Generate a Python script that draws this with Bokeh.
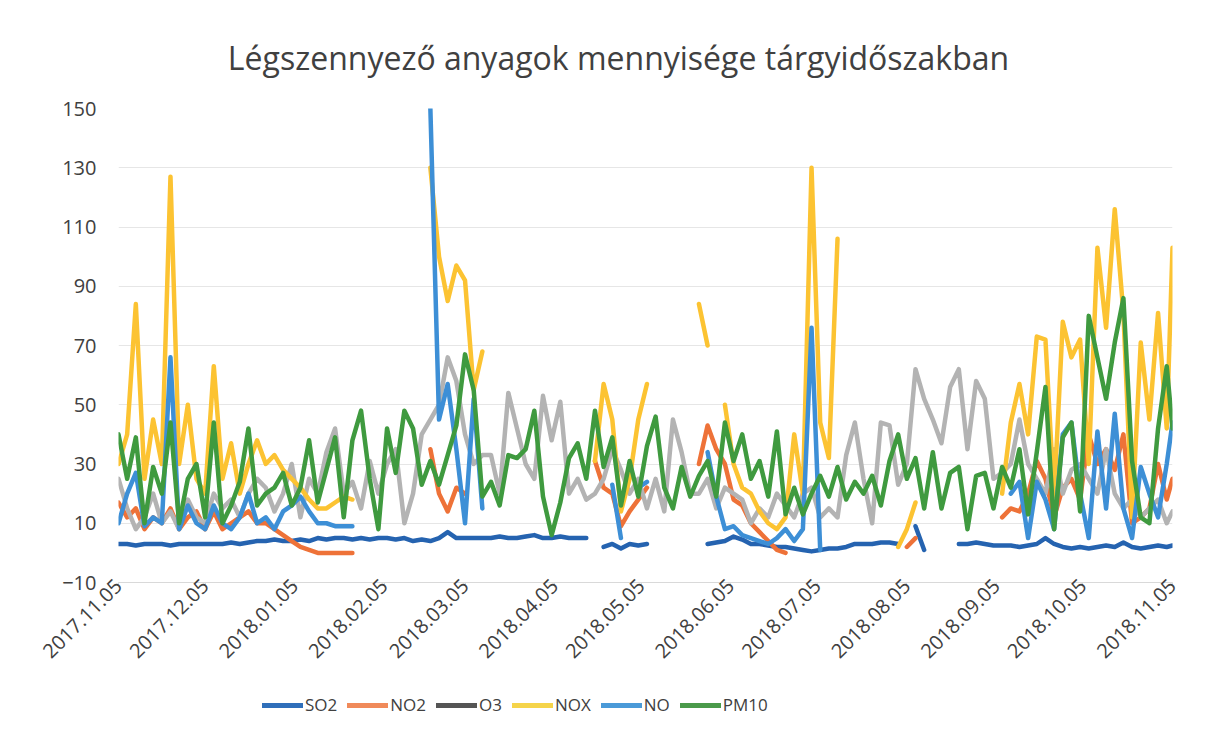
import math
import numpy as np
import pandas as pd
from datetime import datetime
from bokeh.plotting import figure
from bokeh.layouts import column
from bokeh.models import (Range1d, FixedTicker, DatetimeTickFormatter, Label,
                          Legend, LegendItem)
from bokeh.embed import file_html
from bokeh.resources import INLINE

N = np.nan

TITLE = "Légszennyező anyagok mennyisége tárgyidőszakban"
TICK_LABELS = ["2017.11.05", "2017.12.05", "2018.01.05", "2018.02.05", "2018.03.05",
               "2018.04.05", "2018.05.05", "2018.06.05", "2018.07.05", "2018.08.05",
               "2018.09.05", "2018.10.05", "2018.11.05"]
Y_TICKS = [-10, 10, 30, 50, 70, 90, 110, 130, 150]

# sampled every 3rd day from 2017-11-05, last point 2018-11-05
DATES = pd.date_range("2017-11-05", periods=122, freq="3D").append(pd.DatetimeIndex(["2018-11-05"]))

SO2 = [3, 3, 2.5, 3, 3, 3, 2.5, 3, 3, 3, 3,
       3, 3, 3.5, 3, 3.5, 4, 4, 4.5, 4, 4,
       4.5, 4, 5, 4.5, 5, 5, 4.5, 5, 4.5, 5, 5, 4.5, 5,
       4, 4.5, 4, 5, 7, 5, 5, 5,
       5, 5, 5.5, 5, 5, 5.5, 6, 5, 5, 5.5, 5, 5, 5,
       N,
       2, 3, 1.5, 3, 2.5, 3,
       N, N, N, N, N, N,
       3, 3.5, 4, 5.5, 4.5, 3, 3, 2.5, 2, 2, 1.5, 1, 0.5, 1, 1.5, 1.5, 2, 3, 3, 3, 3.5, 3.5, 3,
       N, 9, 1, N, N, N,
       3, 3, 3.5, 3, 2.5, 2.5, 2.5, 2, 2.5, 3, 5, 3, 2, 1.5, 2, 1.5, 2, 2.5, 2, 3.5, 2, 1.5, 2, 2.5, 2, 2.5]

NO2 = [17, 12, 15, 8, 12, 10, 15, 8, 12, 14, 8, 14, 8, 10, 12, 14, 10, 10, 8, 6, 4, 2, 1, 0, 0, 0, 0, 0,
       N, N, N, N, N, N, N, N,
       35, 20, 14, 22, 20,
       N, N, N, N, N, N, N, N, N, N, N, N, N, N,
       31, 22, 20, 9, 14, 18, 22,
       N, N, N, N, N,
       30, 43, 35, 30, 18, 16, 10, 7, 4, 1, 0,
       N, N, N, N, N, N, N, N, N, N, N, N, N,
       2, 5,
       N, N, N, N, N, N, N, N, N,
       12, 15, 14, 20, 31, 25, 12, 22, 25, 18, 40, 30, 35, 28, 40, 10, 12, 15, 30, 18, 25]

O3 = [25, 15, 8, 12, 20, 10, 14, 8, 18, 12, 10, 20, 15, 18, 12, 20, 25, 22, 14, 20, 30, 12, 25, 20,
      34, 42, 20, 24, 15, 31, 20, 30, 35, 10, 20, 40,
      45, 50, 66, 58, 40, 30, 33, 33, 20, 54, 42, 30, 25, 53, 38, 51, 20, 25, 18, 20, 25, 35, 28, 20, 25, 15,
      25, 14, 45, 34, 20, 20, 25, 15, 22, 20, 18, 10, 15, 12, 20, 16, 12, 20, 22, 12, 15, 12, 33, 44,
      25, 10, 44, 43, 23, 30,
      62, 52, 45, 37, 56, 62, 35, 58, 52, 25, 27, 30, 45, 30, 25, 20, 35, 20, 28, 30, 25, 20, 35, 20,
      15, 18, 12, 15, 18, 10, 14]

NOX = [30, 40, 84, 25, 45, 30, 127, 30, 50, 25, 20, 63, 25, 37, 20, 30, 38, 30, 33, 28, 25, 22, 18, 15, 15, 17, 19, 18,
       N, N, N, N, N, N, N, N,
       130, 100, 85, 97, 92, 55, 68,
       N, N, N, N, N, N, N, N, N, N, N, N,
       31, 57, 45, 14, 25, 45, 57,
       N, N, N, N, N,
       84, 70,
       N,
       50, 30, 22, 20, 14, 10, 8, 12, 40, 20, 130, 44, 32, 106,
       N, N, N, N, N, N,
       2, 8, 17,
       N, N, N, N, N, N, N, N, N,
       20, 44, 57, 40, 73, 72, 19, 78, 66, 72, 30, 103, 76, 116, 81, 12, 71, 45, 81, 42, 103]

NO = [10, 20, 27, 9, 12, 10, 66, 8, 16, 10, 8, 16, 10, 8, 12, 20, 10, 12, 8, 14, 16, 19, 14, 10, 10, 9, 9, 9,
      N, N, N, N, N, N, N, N,
      150, 45, 57, 35, 10, 52, 15,
      N, N, N, N, N, N, N, N, N, N, N, N, N, N,
      23, 5,
      N,
      22, 24,
      N, N, N, N, N, N,
      34, 19, 8, 9, 6, 5, 4, 3, 5, 8, 4, 8, 76, 1,
      N, N, N, N, N, N, N, N, N, N, N, N, N, N, N, N, N, N, N, N, N,
      20, 24, 5, 24, 18, 8, 40, 44, 20, 5, 41, 15, 47, 15, 5, 29, 20, 12, 30, 44]

PM10 = [40, 25, 39, 10, 29, 20, 44, 10, 25, 30, 12, 44, 10, 16, 24, 42, 16, 20, 22, 27, 16, 22, 38, 17, 28, 39,
        12, 38, 48, 25, 8, 42, 27, 48, 42, 23, 31, 23, 33, 43, 67, 55, 19,
        24, 16, 33, 32, 35, 48, 19, 6, 17, 32, 37, 25, 48, 29, 39, 16, 31, 19, 36, 46, 22, 15, 29, 19, 26, 31,
        19, 44, 31, 40, 25, 31, 19, 41, 13, 22, 13, 20,
        26, 19, 29, 18, 24, 20, 26, 16, 31, 40, 25, 32, 15, 34, 15, 27, 29, 8, 26, 27, 15, 29, 22, 35, 13, 34,
        56, 8, 39, 44, 14, 80, 66, 52, 71, 86, 31, 12, 10, 42, 63, 42]

SERIES = ["SO2", "NO2", "O3", "NOX", "NO", "PM10"]
VALUES = [SO2, NO2, O3, NOX, NO, PM10]
LINE_COLORS = ["#2563b0", "#ee7238", "#b3b3b3", "#fcc332", "#3d8fd6", "#3f9a3f"]
LEGEND_COLORS = ["#2f6fba", "#f08a5a", "#555555", "#f5d44a", "#4a9ad8", "#4a9a4a"]

FONT = "Open Sans"
TEXT = "#404040"


def strip(height):
    f = figure(width=1192, height=height, output_backend="svg", toolbar_location=None,
               x_range=Range1d(0, 1), y_range=Range1d(0, 1), min_border=0)
    f.axis.visible = False
    f.grid.visible = False
    f.outline_line_color = None
    f.background_fill_color = "white"
    f.border_fill_color = "white"
    return f


# title strip
tf = strip(80)
tf.add_layout(Label(x=500, y=23, x_units="screen", y_units="screen", text=TITLE,
                    text_align="center", text_baseline="middle", text_font=FONT,
                    text_font_size="32px", text_color=TEXT))

# main chart
p = figure(width=1192, height=610, x_axis_type="datetime",
           output_backend="svg", toolbar_location=None,
           x_range=Range1d(datetime(2017, 11, 5), datetime(2018, 11, 5)),
           y_range=Range1d(-10, 150),
           min_border_left=118, min_border_right=20,
           min_border_top=28, min_border_bottom=108)
p.outline_line_color = None
p.background_fill_color = "white"
p.border_fill_color = "white"

for vals, col in zip(VALUES, LINE_COLORS):
    p.line(DATES, np.array(vals, dtype=float), line_width=4.5, line_color=col,
           line_join="round", line_cap="round")

tick_ms = [pd.Timestamp(s.replace(".", "-")).value // 10**6 for s in TICK_LABELS]
p.xaxis.ticker = FixedTicker(ticks=tick_ms)
fmt = "%Y.%m.%d"
p.xaxis.formatter = DatetimeTickFormatter(days=fmt, months=fmt, years=fmt, hours=fmt,
                                          hourmin=fmt, minutes=fmt, minsec=fmt,
                                          seconds=fmt, milliseconds=fmt, microseconds=fmt)
p.xaxis.major_label_orientation = math.pi / 4
p.xaxis.axis_line_color = "#d9d9d9"
p.xaxis.major_tick_line_color = "#d9d9d9"
p.xaxis.major_tick_out = 5
p.xaxis.major_tick_in = 0
p.xaxis.minor_tick_line_color = None
p.xaxis.major_label_text_font = FONT
p.xaxis.major_label_text_font_size = "20px"
p.xaxis.major_label_text_color = TEXT
p.xaxis.major_label_standoff = -5

p.yaxis.ticker = FixedTicker(ticks=Y_TICKS)
p.yaxis.axis_line_color = None
p.yaxis.major_tick_line_color = None
p.yaxis.minor_tick_line_color = None
p.yaxis.major_label_text_font = FONT
p.yaxis.major_label_text_font_size = "20px"
p.yaxis.major_label_text_color = TEXT
p.yaxis.major_label_standoff = 16

p.xgrid.visible = False
p.ygrid.grid_line_color = "#e6e6e6"

# legend strip
lg = strip(40)
items = []
for name, col in zip(SERIES, LEGEND_COLORS):
    # a single off-range point: draws nothing itself, only supplies the legend swatch
    r = lg.line([-5], [-5], line_width=5, line_color=col, line_cap="round")
    items.append(LegendItem(label=name, renderers=[r]))
legend = Legend(items=items, location=(144, 14), orientation="horizontal",
                glyph_width=41, glyph_height=16, label_standoff=2, spacing=10,
                padding=0, margin=0, border_line_color=None, background_fill_alpha=0,
                label_text_font=FONT, label_text_font_size="17px", label_text_color=TEXT)
lg.add_layout(legend)

open("out.html", "w").write(file_html(column(tf, p, lg, spacing=0), INLINE))
